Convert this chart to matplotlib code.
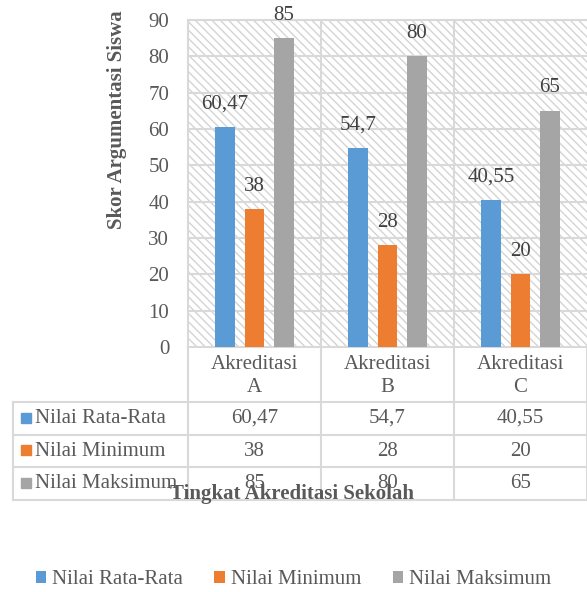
import numpy as np
import matplotlib
matplotlib.use("Agg")
import matplotlib.pyplot as plt
from matplotlib.patches import Rectangle, Patch

plt.rcParams['font.family'] = ['Liberation Serif', 'DejaVu Serif']
plt.rcParams['hatch.color'] = '#d4d4d4'
plt.rcParams['hatch.linewidth'] = 1.0

categories = ["Akreditasi\nA", "Akreditasi\nB", "Akreditasi\nC"]
series_names = ["Nilai Rata-Rata", "Nilai Minimum", "Nilai Maksimum"]
rata = [60.47, 54.7, 40.55]
minimum = [38, 28, 20]
maksimum = [85, 80, 65]
colors = ["#5B9BD5", "#ED7D31", "#A5A5A5"]
yticks = [0, 10, 20, 30, 40, 50, 60, 70, 80, 90]

series = [rata, minimum, maksimum]

def fmt(v):
    s = ("%g" % v)
    return s.replace(".", ",")

W, H = 587, 592
FS = 15
fig = plt.figure(figsize=(W / 100, H / 100), dpi=100)

# main plot area (pixels: left 188, right 587, top 20, bottom 347)
ax = fig.add_axes([188 / W, 1 - 347 / H, 399 / W, 327 / H])
grid_c = "#d9d9d9"
txt_c = "#595959"
lab_c = "#404040"

ax.add_patch(Rectangle((0, 0), 1, 1, transform=ax.transAxes, facecolor="white",
                       hatch="\\\\\\\\", edgecolor="#d4d4d4", linewidth=0, zorder=0))
ax.set_xlim(0, 3)
ax.set_ylim(0, 90)
ax.set_yticks(yticks)
ax.set_xticks([])
for y in yticks[1:]:
    ax.axhline(y, color=grid_c, lw=1.5, zorder=1)
for x in [1, 2]:
    ax.axvline(x, color=grid_c, lw=1.5, zorder=1)
for s in ax.spines.values():
    s.set_color(grid_c)
    s.set_linewidth(1.5)
ax.spines['right'].set_visible(False)
ax.tick_params(axis='y', length=0, labelsize=FS, labelcolor=txt_c, pad=13.5)

x = np.arange(len(categories)) + 0.5
bw = 0.15
offs = [-0.222, 0, 0.222]
for vals, c, o in zip(series, colors, offs):
    bars = ax.bar(x + o, vals, width=bw, color=c, zorder=3)
    for b, v in zip(bars, vals):
        ax.annotate(fmt(v), (b.get_x() + b.get_width() / 2, v), xytext=(0, 16.5),
                    textcoords="offset points", ha="center", va="center",
                    fontsize=FS, color=lab_c, annotation_clip=False)

ax.set_ylabel("Skor Argumentasi Siswa", fontsize=FS, fontweight="bold", color=txt_c)
ax.yaxis.set_label_coords(-0.153, 0.694)

# data table below the plot
tab = fig.add_axes([13 / W, 1 - 500 / H, 574 / W, 153 / H])
tab.set_xlim(-175 / 133, 3)
tab.set_ylim(153, 0)
tab.axis("off")
left = -175 / 133
rows_y = [55, 88, 120, 153]
for xv in [0, 1, 2, 3]:
    tab.plot([xv, xv], [0, 153], color=grid_c, lw=1.5, clip_on=False)
tab.plot([left, left], [55, 153], color=grid_c, lw=1.5, clip_on=False)
for yv in rows_y:
    tab.plot([left, 3], [yv, yv], color=grid_c, lw=1.5, clip_on=False)

for i, cat in enumerate(categories):
    tab.text(i + 0.5, 29, cat, ha="center", va="center", fontsize=FS,
             color=txt_c, linespacing=1.3)

for r, (name, vals, c) in enumerate(zip(series_names, series, colors)):
    yc = (rows_y[r] + rows_y[r + 1]) / 2
    tab.plot([-162.5 / 133], [yc - 1], marker="s", ms=7.5, color=c, clip_on=False)
    tab.text(-153 / 133, yc, name, ha="left", va="center", fontsize=FS, color=txt_c)
    for i, v in enumerate(vals):
        tab.text(i + 0.5, yc, fmt(v), ha="center", va="center", fontsize=FS, color=txt_c)

fig.text(292 / W, 1 - 494 / H, "Tingkat Akreditasi Sekolah", ha="center", va="center",
         fontsize=FS, fontweight="bold", color=txt_c)

handles = [Patch(facecolor=c, edgecolor="none") for c in colors]
fig.legend(handles, series_names, loc="center", bbox_to_anchor=(0.5, 1 - 580 / H),
           ncol=3, frameon=False, fontsize=FS, labelcolor=txt_c,
           handlelength=0.5, handleheight=0.5, handletextpad=0.3, columnspacing=1.5)

fig.savefig("out.png", dpi=100)
